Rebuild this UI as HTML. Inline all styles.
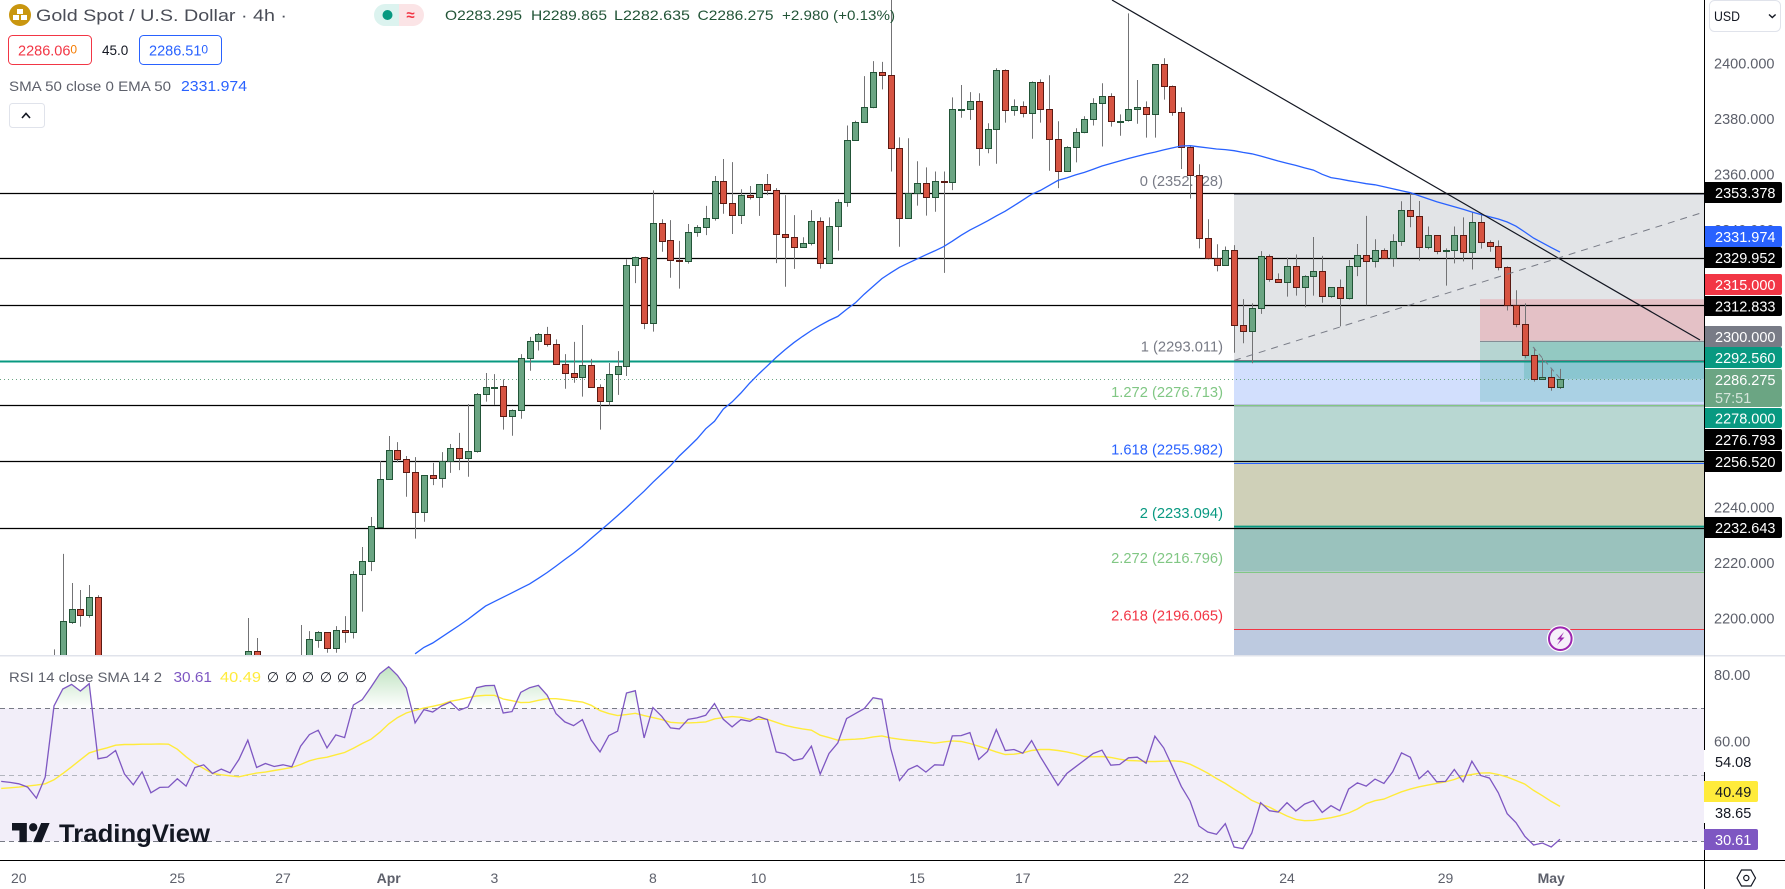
<!DOCTYPE html>
<html lang="en">
<head>
<meta charset="utf-8">
<title>Gold Spot / U.S. Dollar 4h</title>
<style>
html,body{margin:0;padding:0;background:#fff;overflow:hidden}
svg{display:block;font-family:"Liberation Sans",sans-serif}
</style>
</head>
<body>
<svg id="chart" xmlns="http://www.w3.org/2000/svg" width="1785" height="889" viewBox="0 0 1785 889">
  <defs>
    <clipPath id="mainClip"><rect x="0" y="0" width="1704" height="655"/></clipPath>
    <clipPath id="rsiClip"><rect x="0" y="656" width="1704" height="204"/></clipPath>
    <linearGradient id="obGrad" gradientUnits="userSpaceOnUse" x1="0" y1="666" x2="0" y2="708">
      <stop offset="0" stop-color="#4caf50" stop-opacity="0.36"/>
      <stop offset="1" stop-color="#4caf50" stop-opacity="0"/>
    </linearGradient>
  </defs>
  <rect x="0" y="0" width="1785" height="889" fill="#ffffff"/>
  <g id="mainPane" clip-path="url(#mainClip)"></g>
  <g id="rsiPane" clip-path="url(#rsiClip)"></g>
  <g id="legendLayer">
    <circle cx="20" cy="15" r="11" fill="#c9960f"/>
    <g fill="#ffffff">
      <rect x="17" y="9" width="6" height="5"/>
      <rect x="13" y="15" width="6" height="5"/>
      <rect x="21" y="15" width="6" height="5"/>
    </g>
    <text x="36" y="21" font-size="17" fill="#4a4d57" textLength="251" lengthAdjust="spacingAndGlyphs">Gold Spot / U.S. Dollar · 4h ·</text>
    <path d="M399 4H385a11 11 0 0 0 0 22H399Z" fill="#dcf3ef"/>
    <path d="M399 4H413a11 11 0 0 1 0 22H399Z" fill="#fbe4e6"/>
    <circle cx="387.5" cy="15" r="5" fill="#089981"/>
    <text x="410.5" y="20" font-size="15" font-weight="bold" fill="#f23645" text-anchor="middle">≈</text>
    <g font-size="14" fill="#225437">
      <text x="445" y="20" textLength="77" lengthAdjust="spacingAndGlyphs">O2283.295</text>
      <text x="531" y="20" textLength="76" lengthAdjust="spacingAndGlyphs">H2289.865</text>
      <text x="614" y="20" textLength="76" lengthAdjust="spacingAndGlyphs">L2282.635</text>
      <text x="697.5" y="20" textLength="76" lengthAdjust="spacingAndGlyphs">C2286.275</text>
      <text x="782" y="20" textLength="113" lengthAdjust="spacingAndGlyphs">+2.980 (+0.13%)</text>
    </g>
    <rect x="8.5" y="35.5" width="83" height="29" rx="4" fill="#ffffff" stroke="#f23645"/>
    <text x="18" y="55.5" font-size="14.5" fill="#f23645">2286.06<tspan font-size="12" dy="-2" fill="#f57c00">0</tspan></text>
    <text x="102" y="55" font-size="13.5" fill="#131722">45.0</text>
    <rect x="139.5" y="35.5" width="82" height="29" rx="4" fill="#ffffff" stroke="#2962ff"/>
    <text x="149" y="55.5" font-size="14.5" fill="#2962ff">2286.51<tspan font-size="12" dy="-2">0</tspan></text>
    <text x="9" y="91" font-size="14" fill="#5d606b" textLength="162" lengthAdjust="spacingAndGlyphs">SMA 50 close 0 EMA 50</text>
    <text x="181" y="91" font-size="14.5" fill="#2962ff" textLength="66" lengthAdjust="spacingAndGlyphs">2331.974</text>
    <rect x="9.5" y="103.5" width="35" height="24" rx="3" fill="#ffffff" stroke="#e0e3eb"/>
    <path d="M22 118l4-4.5 4 4.5" fill="none" stroke="#131722" stroke-width="1.6"/>
    <text x="9" y="682" font-size="14" fill="#5d606b" textLength="153" lengthAdjust="spacingAndGlyphs">RSI 14 close SMA 14 2</text>
    <text x="173.5" y="682" font-size="14.5" fill="#7e57c2" textLength="38.5" lengthAdjust="spacingAndGlyphs">30.61</text>
    <text x="220" y="682" font-size="14.5" fill="#ffeb3b" textLength="41" lengthAdjust="spacingAndGlyphs">40.49</text>
    <g font-size="14" fill="#131722" text-anchor="middle">
      <text x="273" y="682">∅</text><text x="291" y="682">∅</text><text x="308" y="682">∅</text><text x="326" y="682">∅</text><text x="343" y="682">∅</text><text x="361" y="682">∅</text>
    </g>
    <g fill="#131722">
      <path transform="translate(12 818.8) scale(1.06)" d="M14 22H7V11H0V4h14v18zM28 22h-8l7.5-18h8L28 22z"/>
      <circle cx="33.2" cy="827.3" r="4.2"/>
      <text x="59" y="842" font-size="25" font-weight="bold" textLength="151" lengthAdjust="spacingAndGlyphs">TradingView</text>
    </g>
  </g>
  <g id="axisLayer">
    <rect x="1705" y="0" width="80" height="889" fill="#ffffff"/>
    <rect x="0" y="861" width="1785" height="28" fill="#ffffff"/>
    <rect x="0" y="655" width="1785" height="1.5" fill="#e0e3eb"/>
    <line x1="1704.5" y1="0" x2="1704.5" y2="889" stroke="#000000"/>
    <line x1="0" y1="860.5" x2="1785" y2="860.5" stroke="#000000"/>
    <g id="priceTicks"></g>
    <g id="rsiTicks"></g>
    <g id="timeTicks"></g>
    <rect x="1709.5" y="0.5" width="71" height="31" rx="5" fill="#ffffff" stroke="#e0e3eb"/>
    <text x="1714" y="21" font-size="14" fill="#131722" textLength="26" lengthAdjust="spacingAndGlyphs">USD</text>
    <path d="M1769 14.5l3.3 3 3.3-3" fill="none" stroke="#131722" stroke-width="1.4"/>
    <g font-size="14.5" fill="#ffffff">
      <g><path d="M1705 182H1780a2 2 0 0 1 2 2V201a2 2 0 0 1-2 2H1705Z" fill="#000000"/><text x="1715" y="198">2353.378</text></g>
      <g><path d="M1705 226H1780a2 2 0 0 1 2 2V245a2 2 0 0 1-2 2H1705Z" fill="#2962ff"/><text x="1715" y="242">2331.974</text></g>
      <g><path d="M1705 247H1780a2 2 0 0 1 2 2V266a2 2 0 0 1-2 2H1705Z" fill="#000000"/><text x="1715" y="263">2329.952</text></g>
      <g><path d="M1705 274H1780a2 2 0 0 1 2 2V293a2 2 0 0 1-2 2H1705Z" fill="#f23645"/><text x="1715" y="290">2315.000</text></g>
      <g><path d="M1705 296H1780a2 2 0 0 1 2 2V314a2 2 0 0 1-2 2H1705Z" fill="#000000"/><text x="1715" y="311.5">2312.833</text></g>
      <g><path d="M1705 326H1780a2 2 0 0 1 2 2V345a2 2 0 0 1-2 2H1705Z" fill="#787b86"/><text x="1715" y="342">2300.000</text></g>
      <g><path d="M1705 347H1780a2 2 0 0 1 2 2V366a2 2 0 0 1-2 2H1705Z" fill="#089981"/><text x="1715" y="363">2292.560</text></g>
      <g><path d="M1705 369H1780a2 2 0 0 1 2 2V405a2 2 0 0 1-2 2H1705Z" fill="#6ba583"/><text x="1715" y="385">2286.275</text><text x="1715" y="403" fill="#d6e6dc">57:51</text></g>
      <g><path d="M1705 408H1780a2 2 0 0 1 2 2V426a2 2 0 0 1-2 2H1705Z" fill="#089981"/><text x="1715" y="423.5">2278.000</text></g>
      <g><path d="M1705 429H1780a2 2 0 0 1 2 2V448a2 2 0 0 1-2 2H1705Z" fill="#000000"/><text x="1715" y="445">2276.793</text></g>
      <g><path d="M1705 451H1780a2 2 0 0 1 2 2V470a2 2 0 0 1-2 2H1705Z" fill="#000000"/><text x="1715" y="467">2256.520</text></g>
      <g><path d="M1705 517H1780a2 2 0 0 1 2 2V536a2 2 0 0 1-2 2H1705Z" fill="#000000"/><text x="1715" y="533">2232.643</text></g>
      <rect x="1704" y="750" width="54" height="22" fill="#ffffff"/>
      <text x="1715" y="767" fill="#131722">54.08</text>
      <rect x="1704" y="802" width="54" height="21" fill="#ffffff"/>
      <text x="1715" y="818" fill="#131722">38.65</text>
      <g><path d="M1704 781H1756a2 2 0 0 1 2 2V800a2 2 0 0 1-2 2H1704Z" fill="#ffeb3b"/><text x="1715" y="797" fill="#131722">40.49</text></g>
      <g><path d="M1704 829H1756a2 2 0 0 1 2 2V848a2 2 0 0 1-2 2H1704Z" fill="#7e57c2"/><text x="1715" y="845">30.61</text></g>
    </g>
    <g fill="none" stroke="#131722" stroke-width="1.2">
      <path d="M1737 878l4.5-8h9.5l4.5 8-4.5 8h-9.5Z"/>
      <circle cx="1746.3" cy="878" r="2.6"/>
    </g>
  </g>
  <g id="alertIcon">
    <circle cx="1560.3" cy="638.7" r="13.5" fill="#ffffff"/>
    <circle cx="1560.3" cy="638.7" r="11.3" fill="#f6effa" stroke="#9c27b0" stroke-width="2"/>
    <path d="M1564 632l-7 7.5h3.5l-3.5 5.5 7.5-7.5h-3.5Z" fill="#9c27b0"/>
  </g>
</svg>
<script>
// ---- price data (bar index 0..171) ----
const opens = [
2178,2184,2198.8,2203.2,2201.3,2207.6,2170,2172,2169,2171,
2176,2174,2170,2173,2175,2172,2174,2177,2175,2178,
2176,2179,2180,2188.1,2178,2180,2177,2179,2182,2184,
2192.3,2194.9,2189.2,2195.7,2194.9,2215.9,2220.5,2233,2250.1,2260.5,
2257.3,2252.6,2238.2,2251.5,2250.4,2256.6,2261.3,2257.7,2260.2,2280.7,
2283.2,2283.6,2273,2274.9,2293.7,2299.8,2302.3,2298.7,2291.5,2288.3,
2286.8,2291.2,2283.2,2278.2,2287.9,2290.8,2327.2,2330.1,2306.3,2342.3,
2336.2,2329,2328.6,2339.1,2340.9,2344.1,2357.5,2349.5,2345.2,2352.4,
2351.7,2356.4,2354.5,2338.4,2337.3,2333.7,2335.1,2343,2327.9,2341.2,
2349.9,2372.2,2378.7,2384.1,2396.8,2395.7,2369.3,2344.1,2353.1,2356.7,
2351.7,2357.5,2357.1,2383,2383.4,2386.3,2369.3,2376.2,2397.5,2383.1,
2384.5,2382,2393.1,2383.4,2372.6,2361.1,2369.7,2375.1,2379.8,2385.6,
2388.1,2378.9,2379.4,2383.4,2384.1,2381.6,2399.6,2392,2382.3,2369.7,
2359.6,2336.9,2329.7,2327.2,2332.6,2305.6,2303.4,2311.7,2330.4,2322.1,
2321.1,2326.8,2319.3,2323.2,2325,2316,2319.3,2315.3,2326.8,2330.8,
2328.6,2332.6,2329.7,2335.8,2347,2344.8,2333.7,2338,2332.2,2332.6,
2338,2331.9,2342.7,2335.5,2334.1,2326.5,2312.8,2305.9,2294.8,2286.1,
2286.8,2283.295];
const highs = [
2188.8,2223.2,2212.7,2210.2,2212,2208.3,2175,2178,2174,2179,
2181,2177,2176,2178,2180,2176,2180,2182,2179,2183,
2180,2184,2200.1,2192.9,2183,2184,2182,2185,2197.6,2195.4,
2195.4,2194.9,2197.2,2200.8,2217,2225.7,2236.5,2256.7,2265.7,2263.5,
2258.5,2258.1,2251.5,2256,2259.9,2262.8,2266.8,2277.2,2281.2,2288.4,
2288,2286.1,2275.3,2295.2,2301.4,2302.8,2305,2300.5,2295.2,2299.6,
2305.7,2293.5,2284.3,2292,2296.3,2329.4,2330.4,2330.1,2354.2,2343.8,
2343.5,2336,2342.1,2341.7,2348.6,2359.4,2365.5,2364.4,2354.6,2355.8,
2356.4,2360.1,2355,2352.5,2345.3,2337.3,2347.1,2344.5,2344.5,2351,
2377.6,2379.3,2395.4,2400.8,2400.5,2425,2373.3,2373,2364.7,2362.5,
2361,2361,2387.7,2392.2,2389.6,2389.2,2378.4,2398.2,2397.8,2387,
2386.3,2393.5,2394.2,2395.7,2379.1,2370.1,2376.6,2380.9,2387.4,2392.8,
2389.2,2381.6,2418,2394,2386.3,2399.6,2401.8,2392,2384.1,2370.3,
2363.6,2343.8,2334.8,2334,2334.5,2315,2313.5,2332.3,2331.1,2324.3,
2330,2331.1,2323.6,2337.4,2330.6,2319.3,2322.1,2329.1,2334.9,2345,
2336.6,2333.3,2338.4,2350.3,2353.1,2350.4,2341.2,2338,2333.3,2341.2,
2344.5,2346.3,2345.9,2336.2,2336.2,2326.8,2318.2,2313.5,2297.5,2293.7,
2289.7,2289.865];
const lows = [
2170,2180,2198,2197,2200.2,2165,2164,2168,2163,2169,
2172,2168,2166,2170,2172,2167,2171,2174,2170,2175,
2172,2175,2178,2176,2173,2175,2172,2176,2178,2182,
2189.4,2187.6,2187.6,2191.2,2192.7,2202.4,2217,2233,2250.1,2256.2,
2243.8,2228.7,2234.8,2248,2247.1,2252.4,2253.4,2251,2259.7,2278.1,
2276.9,2268,2265.8,2271.9,2289.2,2296.5,2297.9,2291.5,2282.7,2284.9,
2279.9,2283.2,2268,2276.7,2280.5,2287.3,2320.8,2304.2,2303.3,2332.1,
2322.7,2318.8,2327.8,2337.5,2338.1,2343.3,2345.8,2338.5,2342.1,2350.9,
2345,2352.5,2328,2319.5,2325.9,2333.7,2334.4,2326,2327.9,2332.5,
2348.3,2372.2,2378.7,2383.8,2390.6,2361,2333.9,2344.1,2348.7,2345.1,
2346.5,2324.5,2354.3,2380.4,2379.6,2363.1,2367.6,2363.8,2378.6,2381.1,
2380.5,2372.8,2378.6,2361.3,2355,2361.1,2364.3,2374.8,2377.6,2370,
2377.2,2373.9,2379,2378.2,2373.2,2373.2,2386.9,2381.1,2361.9,2351.3,
2333.3,2329.3,2325,2327.2,2295.7,2299.1,2291.9,2309.7,2321.3,2321.1,
2315.9,2316.3,2312.1,2316.3,2313.7,2315.5,2305.2,2314.9,2323.3,2312.8,
2326.4,2329.7,2326.7,2334.2,2340.9,2328.9,2333,2331.2,2319.9,2327.9,
2328.6,2325.7,2333.2,2332.1,2325.4,2310.9,2304.9,2293.7,2285.3,2286.1,
2282,2282.635];
const closes = [
2184,2198.9,2203.2,2201.3,2207.6,2170,2172,2169,2171,2176,
2174,2170,2173,2175,2172,2174,2177,2175,2178,2176,
2179,2180,2188.1,2178,2180,2177,2179,2182,2184,2192.4,
2194.9,2189.2,2195.7,2194.9,2215.9,2220.5,2233.2,2250.1,2260.5,2257.3,
2252.6,2238.2,2251.5,2250.4,2256.6,2261.3,2257.7,2260.2,2280.7,2283.2,
2283.5,2273,2274.9,2293.7,2299.8,2302.3,2298.7,2291.5,2288.3,2286.8,
2291.2,2283.2,2278.2,2287.9,2290.8,2327.2,2330.1,2306.3,2342.3,2336.1,
2329,2328.6,2339.1,2340.9,2344.1,2357.5,2349.5,2345.2,2352.4,2351.7,
2356.4,2354.5,2338.4,2337.3,2333.7,2335.1,2343,2327.9,2341.2,2349.9,
2372.2,2378.7,2384.1,2396.8,2395.7,2369.3,2344.1,2353.1,2356.7,2351.7,
2357.5,2357.1,2383.4,2383.4,2386.3,2369.3,2376.2,2397.5,2383.1,2384.5,
2382,2393.1,2383.4,2372.6,2361.1,2369.7,2375.1,2379.8,2385.6,2388.1,
2379.1,2379.3,2383.4,2384.1,2381.6,2399.6,2392,2382.3,2369.7,2359.6,
2336.9,2329.7,2327.2,2332.6,2305.6,2303.4,2311.7,2330.4,2322.1,2321.1,
2326.8,2319.3,2323.2,2325,2316,2319.3,2315.3,2326.8,2330.8,2328.6,
2332.6,2329.7,2335.8,2347,2344.8,2333.7,2338,2332.2,2332.6,2338,
2331.9,2342.7,2335.5,2334.1,2326.5,2312.8,2305.9,2294.8,2286.1,2286.8,
2283.2,2286.275];

// EMA 50, first value belongs to bar 41
const emaFirstBar = 41;
const emaValues = [
2187.2,2189.5,2191.1,2193.2,2195.3,2197.4,2199.6,2202,2204.4,2206,
2207.6,2209.2,2210.8,2212.4,2214.4,2216.5,2218.8,2221.2,2223.5,2226,
2228.8,2231.5,2234.2,2237,2239.9,2242.9,2245.8,2249,2252,2255,
2258.5,2261.5,2264.6,2268.3,2271,2275.4,2278,2281.2,2284.8,2288,
2291,2294,2296.8,2299.3,2301.6,2303.7,2305.6,2307.3,2308.8,2311.3,
2313.7,2316.8,2319.6,2322.4,2324.5,2326.5,2328,2329.5,2331,2332.4,
2333.9,2335.9,2338,2339.9,2341.5,2343.2,2345,2346.7,2348.7,2350.7,
2352.8,2354.2,2356,2357.8,2358.7,2359.8,2360.7,2361.8,2363,2363.9,
2364.8,2365.7,2366.5,2367.3,2368,2368.8,2369.5,2370.2,2370.3,2369.9,
2369.5,2369.1,2368.9,2368.5,2367.9,2367.4,2366.6,2365.7,2364.8,2364,
2363.2,2362.3,2361.5,2360,2358.8,2358.3,2357.7,2357.2,2356.6,2356.2,
2355.5,2354.8,2354.1,2353.4,2352.3,2351.2,2350.1,2349.2,2348.3,2347.4,
2346.4,2345.5,2344.7,2343.9,2342.8,2341.3,2339.2,2337,2335.3,2333.6,
2331.974];

// RSI and its SMA, first value belongs to bar -6
const rsiFirstBar = -6;
const rsiValues = [
48,47.7,47.3,46.3,43,49.3,70.7,75.8,77.2,75.2,77.4,54.8,55.3,57.3,50.2,47,
50.9,44.6,46.2,46.3,48.8,46.6,52.2,53,50.4,51.7,50.6,54.6,60.4,52.2,53.4,52.5,
53,52.4,58.6,62.1,63.4,58.1,62,61.2,71,72.6,76.4,80.4,82.5,79.9,76.1,65.6,
69.6,68.9,70.7,71.9,69.4,70.4,76.2,76.8,76.9,68.6,69,74.8,76.2,76.9,73.9,68.4,
65.9,64.8,66.6,60.4,56.9,61.8,63.1,74.6,75.3,61.1,70.2,67.6,64.1,63.8,66.7,67.1,
67.9,71.4,66.7,64.4,66.6,66.1,67.5,66.6,56.9,56.3,54.3,
54.9,58.6,50.2,56.4,59.6,66.9,68.4,69.9,73.2,72.7,57.9,48.3,51.6,52.8,50.8,53,
52.9,61.7,61.8,62.7,54.6,57,63.6,57.3,57.6,56.5,60.3,55.4,51.1,46.8,50.4,52.4,
54.4,56.4,57.4,52.9,53.1,55.1,55.3,53.5,61.6,58.1,52.4,46.5,42.1,34.6,32.8,32.1,
35.3,28.3,27.8,32.5,41.6,39.2,38.8,41.6,39.1,41.2,42.2,38.7,40.7,39.2,45.7,47.6,
46.6,48.7,47.4,50.9,56.6,55.3,48.8,51.2,47.9,48,51.6,47.9,54.1,49.8,49,44.6,
38.3,35.6,31.5,28.9,29.5,28.3,30.61];
const smaValues = [
45.9,46.1,46.3,46.6,46.9,47.3,48.5,50.4,52.4,54.5,56.6,57.4,58.1,58.9,59.1,59.1,
59.2,59.2,59.3,59.2,57.7,55.4,53.4,51.9,50.4,50,49.7,49.4,50,50.5,50.8,51.3,
51.7,52.2,53.1,54.2,54.9,55.3,56,56.7,58,59.4,60.7,62.8,65.3,67.2,68.6,69.4,
70.1,70.6,71.2,72.1,72.6,73.2,73.7,73.9,73.9,72.8,72.3,71.7,71.8,72.4,72.9,72.9,
72.6,72.2,71.9,70.9,69.3,68.4,67.8,68.1,68.5,67.8,67.2,66.6,65.8,65.6,65.6,65.7,
65.9,66.8,67.2,67.5,67.3,66.7,66.7,66.7,65.8,64.9,64.3,
63.8,63.4,61.9,61.2,60.4,60.6,60.7,60.9,61.4,61.7,61.1,60.7,60.4,60.2,59.9,59.5,
59.9,60.2,60,59.4,58.6,57.8,56.9,56.1,56.2,56.6,57.3,57.6,57.6,57.3,56.9,56.3,
55.5,55.4,55.5,55.2,54.7,54.3,54.2,54,54,54.1,54.2,54,53.2,51.9,50.5,48.9,
47.4,45.7,44.1,42.3,41.2,40.3,38.9,37.6,36.6,36.2,36.3,36.7,37.1,37.7,38.5,39.7,
41.3,42.2,42.7,43.8,44.9,45.7,46.4,46.9,47.4,47.9,48.6,49.6,50.1,50.5,50.6,50.1,
49.3,48.3,47.2,45.3,43.7,42,40.49];

// Levels and drawings
const levelPrices = [2353.378,2329.952,2312.833,2276.793,2256.52,2232.643];
const keyLevelPrice = 2292.56;
const lastPrice = 2286.275;
const fibPrices = [2352.728,2293.011,2276.713,2255.982,2233.094,2216.796,2196.065];
const fibRatios = ['0','1','1.272','1.618','2','2.272','2.618'];
const fibLabelColors = ['#787b86','#787b86','#81c784','#2962ff','#089981','#81c784','#f23645'];
const fibFillColors = ['#e2e4e7','#d2dffd','#b8d7d2','#cfd0b8','#9ac2bd','#c9ccd0','#bdcae0'];
const positionStop = 2315;
const positionEntry = 2300;
const positionTarget = 2278;

// Axis labels
const priceTickValues = [2400,2380,2360,2340,2240,2220,2200];
const rsiTickValues = [80,60];
const rsiGuideValues = [70,50,30];
const timeTickBars = [-4,14,26,38,50,68,80,98,110,128,140,158,170];
const timeTickLabels = ['20','25','27','Apr','3','8','10','15','17','22','24','29','May'];
const timeTickBold = ['Apr','May'];

// Axis functions
function xBar(k){ return 54 + 8.807 * k; }
function snapX(k){ return Math.round(xBar(k)) + 0.5; }
function yPrice(p){ return 63.3 + (2400 - p) * 2.775; }
function yRsi(r){ return 774.8 - (r - 50) * 3.325; }

const NS = 'http://www.w3.org/2000/svg';
function mk(tag, attrs, parent){
  const e = document.createElementNS(NS, tag);
  for (const a in attrs) e.setAttribute(a, attrs[a]);
  parent.appendChild(e);
  return e;
}
const main = document.getElementById('mainPane');
const rsiG = document.getElementById('rsiPane');

// Fibonacci fills
const boxLeft = 1234, boxRight = 1704;
fibPrices.forEach(function(p, i){
  const top = yPrice(p);
  const bottom = i + 1 < fibPrices.length ? yPrice(fibPrices[i + 1]) : 655;
  const f = mk('rect', {x: boxLeft, y: top, width: boxRight - boxLeft, height: bottom - top, fill: fibFillColors[i]}, main);
  
  
});

// Position zones
const stopZone = mk('rect', {x: 1480, y: yPrice(positionStop), width: 224, height: yPrice(positionEntry) - yPrice(positionStop), fill: '#f23645', 'fill-opacity': 0.2}, main);


const targetZone = mk('rect', {x: 1480, y: yPrice(positionEntry), width: 224, height: yPrice(positionTarget) - yPrice(positionEntry), fill: '#089981', 'fill-opacity': 0.2}, main);


const profitZone = mk('rect', {x: 1524, y: yPrice(positionEntry), width: 180, height: yPrice(lastPrice) - yPrice(positionEntry), fill: '#089981', 'fill-opacity': 0.2}, main);


const entryLine = mk('line', {x1: 1480, x2: 1704, y1: Math.round(yPrice(positionEntry)) + 0.5, y2: Math.round(yPrice(positionEntry)) + 0.5, stroke: '#787b86', 'stroke-opacity': 0.8}, main);



// Horizontal levels
levelPrices.forEach(function(p){
  const y = Math.round(yPrice(p)) + 0.5;
  const l = mk('line', {x1: 0, x2: 1704, y1: y, y2: y, stroke: '#000000', 'stroke-width': 1.2}, main);
  
  
});
const keyLine = mk('line', {x1: 0, x2: 1704, y1: yPrice(keyLevelPrice), y2: yPrice(keyLevelPrice), stroke: '#089981', 'stroke-width': 2}, main);


const lastLine = mk('line', {x1: 0, x2: 1704, y1: Math.round(yPrice(lastPrice)) + 0.5, y2: Math.round(yPrice(lastPrice)) + 0.5, stroke: '#6ba583', 'stroke-dasharray': '1 3'}, main);



// Fibonacci lines and labels
const fibLineColors = ['#787b86','#787b86','#81c784','#2962ff','#089981','#81c784','#f23645'];
fibPrices.forEach(function(p, i){
  const y = Math.round(yPrice(p)) + 0.5;
  const l = mk('line', {x1: boxLeft, x2: boxRight, y1: y, y2: y, stroke: fibLineColors[i], 'stroke-width': fibRatios[i] === '2' ? 1.8 : 1}, main);
  
  
  const t = mk('text', {x: 1223, y: yPrice(p) - 8.5, 'font-size': 14.7, fill: fibLabelColors[i], 'text-anchor': 'end'}, main);
  
  
  t.textContent = fibRatios[i] + ' (' + p.toFixed(3) + ')';
});

// Candles
opens.forEach(function(o, k){
  const c = closes[k];
  const cx = snapX(k);
  const up = c >= o;
  const wick = mk('line', {x1: cx, x2: cx, y1: yPrice(highs[k]), y2: yPrice(lows[k]), stroke: '#737375'}, main);
  
  
  const top = Math.round(yPrice(Math.max(o, c))) + 0.5;
  const bot = Math.round(yPrice(Math.min(o, c))) + 0.5;
  const body = mk('rect', {x: cx - 3, y: top, width: 6, height: Math.max(bot - top, 1), fill: up ? '#6ba583' : '#d75442', stroke: up ? '#225437' : '#5b1a13'}, main);
  
  
});

// EMA line
const emaPts = emaValues.map(function(v, i){ return xBar(emaFirstBar + i).toFixed(1) + ',' + yPrice(v).toFixed(1); }).join(' ');
const emaLine = mk('polyline', {points: emaPts, fill: 'none', stroke: '#2962ff', 'stroke-width': 1.3}, main);



// Trend lines
const downTrend = mk('line', {x1: 1112, y1: 0, x2: 1700, y2: 340, stroke: '#131722', 'stroke-width': 1.2}, main);


const fibTrend = mk('line', {x1: 1234, y1: 360.5, x2: 1704, y2: 212, stroke: '#787b86', 'stroke-dasharray': '7 6'}, main);


const posTrend = mk('line', {x1: 1533, y1: 347, x2: 1560, y2: 378.5, stroke: '#787b86', 'stroke-dasharray': '5 4'}, main);



// RSI pane
const band = mk('rect', {x: 0, y: yRsi(70), width: 1704, height: yRsi(30) - yRsi(70), fill: '#7e57c2', 'fill-opacity': 0.1}, rsiG);


rsiGuideValues.forEach(function(v){
  const y = Math.round(yRsi(v)) + 0.5;
  const g = mk('line', {x1: 0, x2: 1704, y1: y, y2: y, stroke: v === 50 ? '#b2b5be' : '#787b86', 'stroke-dasharray': '5 4'}, rsiG);
  
  
});
const clipId = 'obClip';
const defs = document.querySelector('defs');
const ob = mk('clipPath', {id: clipId}, defs);
mk('rect', {x: 0, y: 656, width: 1704, height: yRsi(70) - 656}, ob);
const rsiCoords = rsiValues.map(function(v, i){ return xBar(rsiFirstBar + i).toFixed(1) + ',' + yRsi(v).toFixed(1); });
const obArea = mk('polygon', {
  points: xBar(rsiFirstBar).toFixed(1) + ',' + yRsi(70) + ' ' + rsiCoords.join(' ') + ' ' + xBar(rsiFirstBar + rsiValues.length - 1).toFixed(1) + ',' + yRsi(70),
  fill: 'url(#obGrad)', 'clip-path': 'url(#' + clipId + ')'
}, rsiG);


const smaLine = mk('polyline', {points: smaValues.map(function(v, i){ return xBar(rsiFirstBar + i).toFixed(1) + ',' + yRsi(v).toFixed(1); }).join(' '), fill: 'none', stroke: '#ffeb3b', 'stroke-width': 1.4}, rsiG);


const rsiLine = mk('polyline', {points: rsiCoords.join(' '), fill: 'none', stroke: '#7e57c2', 'stroke-width': 1.3}, rsiG);



// Axis ticks
const pt = document.getElementById('priceTicks');
priceTickValues.forEach(function(v){
  const t = mk('text', {x: 1714, y: yPrice(v) + 5, 'font-size': 14.5, fill: '#5d606b'}, pt);
  
  
  t.textContent = v.toFixed(3);
});
const rt = document.getElementById('rsiTicks');
rsiTickValues.forEach(function(v){
  const t = mk('text', {x: 1714, y: yRsi(v) + 5, 'font-size': 14.5, fill: '#5d606b'}, rt);
  
  
  t.textContent = v.toFixed(2);
});
const tt = document.getElementById('timeTicks');
timeTickLabels.forEach(function(s, i){
  const bold = timeTickBold.indexOf(s) >= 0;
  const t = mk('text', {x: xBar(timeTickBars[i]), y: 883, 'font-size': 14, fill: '#5d606b', 'text-anchor': 'middle', 'font-weight': bold ? 'bold' : 'normal'}, tt);
  
  
  t.textContent = s;
});
</script>
</body>
</html>
